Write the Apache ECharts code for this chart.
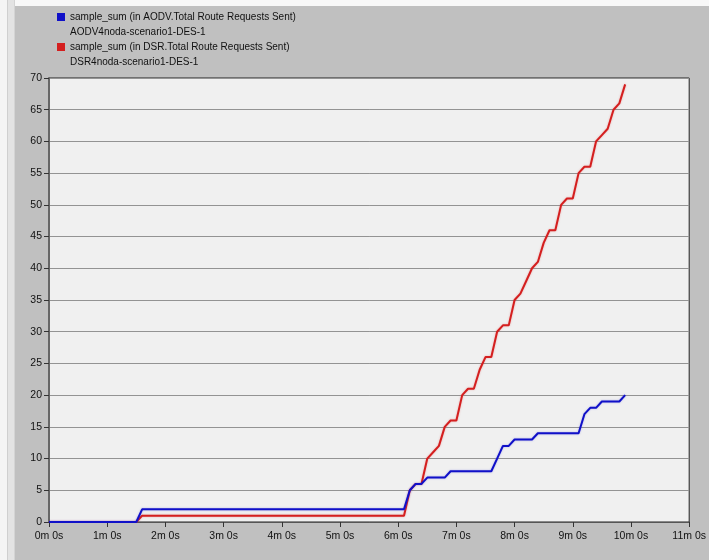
<!DOCTYPE html>
<html lang="en">

<head>
    <meta charset="UTF-8">
    <title>Total Route Requests Sent</title>
    <script src="https://cdn.jsdelivr.net/npm/echarts@6/dist/echarts.min.js"></script>
    <style>
        html, body { margin: 0; padding: 0; }
        #chart_show { width: 709px; height: 560px; }
    </style>
</head>

<body>
    <div id="chart_show"></div>

    <script>
        // sample times (seconds), shared by both series
        var times = [0, 90, 96, 366, 372, 378, 384, 390, 396, 402, 408, 414, 420, 426, 432, 438, 444,
            450, 456, 462, 468, 474, 480, 486, 492, 498, 504, 510, 516, 522, 528, 534, 540, 546,
            552, 558, 564, 570, 576, 582, 588, 594];
        // AODV.Total Route Requests Sent
        var aodvSum = [0, 0, 2, 2, 5, 6, 6, 7, 7, 7, 7, 8, 8, 8, 8, 8, 8,
            8, 8, 10, 12, 12, 13, 13, 13, 13, 14, 14, 14, 14, 14, 14, 14, 14,
            17, 18, 18, 19, 19, 19, 19, 20];
        // DSR.Total Route Requests Sent
        var dsrSum = [0, 0, 1, 1, 5, 6, 6, 10, 11, 12, 15, 16, 16, 20, 21, 21, 24,
            26, 26, 30, 31, 31, 35, 36, 38, 40, 41, 44, 46, 46, 50, 51, 51, 55,
            56, 56, 60, 61, 62, 65, 66, 69];
        var seriesNames = ['sample_sum (in AODV.Total Route Requests Sent)', 'sample_sum (in DSR.Total Route Requests Sent)'];
        var scenarioNames = ['AODV4noda-scenario1-DES-1', 'DSR4noda-scenario1-DES-1'];

        function pairs(vals) {
            var out = [];
            for (var i = 0; i < times.length; i++) {
                out.push([times[i], vals[i]]);
            }
            return out;
        }

        var font = '"Liberation Sans", Arial, sans-serif';
        var myChart = echarts.init(document.getElementById('chart_show'));

        var option = {
            animation: false,
            backgroundColor: '#c0c0c0',
            textStyle: { fontFamily: font },
            graphic: [
                // window frame strips
                { type: 'rect', left: 0, top: 0, shape: { width: 709, height: 6 }, style: { fill: '#f8f8f8' }, silent: true },
                { type: 'rect', left: 0, top: 0, shape: { width: 7, height: 560 }, style: { fill: '#f4f4f4' }, silent: true },
                { type: 'rect', left: 7, top: 0, shape: { width: 1, height: 560 }, style: { fill: '#cfcfcf' }, silent: true },
                { type: 'rect', left: 8, top: 0, shape: { width: 6, height: 560 }, style: { fill: '#e3e3e3' }, silent: true },
                { type: 'rect', left: 14, top: 0, shape: { width: 1, height: 560 }, style: { fill: '#d4d4d4' }, silent: true },
                // second line of each legend entry
                { type: 'text', left: 70, top: 27, style: { text: scenarioNames[0], fill: '#111', font: '10px ' + font } },
                { type: 'text', left: 70, top: 57, style: { text: scenarioNames[1], fill: '#111', font: '10px ' + font } }
            ],
            legend: {
                orient: 'vertical',
                left: 57,
                top: 10,
                padding: 0,
                itemGap: 16,
                itemWidth: 8,
                itemHeight: 8,
                icon: 'rect',
                data: seriesNames,
                textStyle: { color: '#111', fontSize: 10, lineHeight: 14, fontFamily: font }
            },
            grid: {
                left: 49,
                right: 16,
                top: 78,
                bottom: 38,
                show: true,
                backgroundColor: '#f0f0f0',
                borderColor: '#222',
                borderWidth: 1
            },
            xAxis: {
                type: 'value',
                min: 0,
                max: 660,
                interval: 60,
                axisLine: { lineStyle: { color: '#555', width: 1 } },
                axisTick: { length: 5, lineStyle: { color: '#333' } },
                axisLabel: {
                    color: '#111',
                    fontSize: 10.5,
                    margin: 9,
                    formatter: function (v) { return (v / 60) + 'm 0s'; }
                },
                splitLine: { show: false }
            },
            yAxis: {
                type: 'value',
                min: 0,
                max: 70,
                interval: 5,
                axisLine: { show: true, lineStyle: { color: '#666', width: 2 } },
                axisTick: { show: true, length: 5, lineStyle: { color: '#333' } },
                axisLabel: { color: '#111', fontSize: 10.5, margin: 7 },
                splitLine: { lineStyle: { color: '#939393', width: 1 } }
            },
            series: [
                {
                    name: seriesNames[1],
                    type: 'line',
                    showSymbol: false,
                    color: '#d41f1f',
                    lineStyle: { width: 2, shadowColor: 'rgba(220,40,40,0.35)', shadowBlur: 2 },
                    data: pairs(dsrSum)
                },
                {
                    name: seriesNames[0],
                    type: 'line',
                    showSymbol: false,
                    color: '#1010c8',
                    lineStyle: { width: 2, shadowColor: 'rgba(40,40,220,0.35)', shadowBlur: 2 },
                    data: pairs(aodvSum)
                }
            ]
        };

        myChart.setOption(option);
    </script>
</body>

</html>
